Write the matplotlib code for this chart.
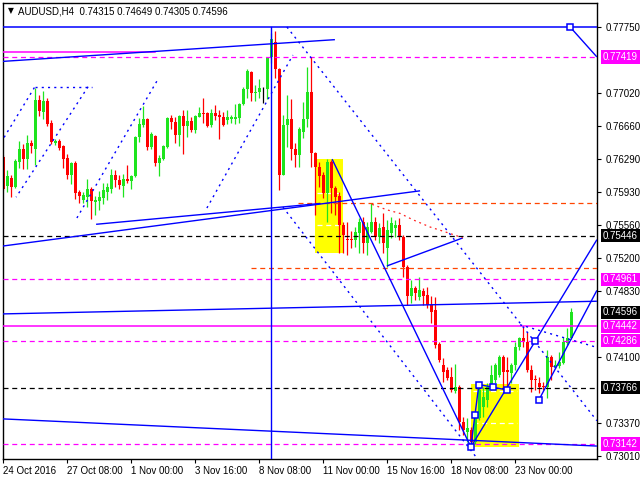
import matplotlib
matplotlib.use('Agg')
import matplotlib.pyplot as plt
import matplotlib.transforms as mtransforms
import numpy as np

plt.rcParams['font.family'] = ['Liberation Sans', 'DejaVu Sans']

# ---------------- data ----------------
opens = [.7631, .7599, .7608, .7598, .7626, .7640, .7629, .7647, .7640, .7694,
         .7681, .7693, .7669, .7647, .7649, .7643, .7630, .7611, .7625, .7593,
         .7584, .7587, .7596, .7582, .7583, .7586, .7593, .7596, .7611, .7606,
         .7599, .7607, .7605, .7610, .7654, .7667, .7673, .7642, .7655, .7625,
         .7629, .7642, .7674, .7670, .7656, .7677, .7666, .7671, .7661, .7676,
         .7680, .7680, .7667, .7680, .7678, .7676, .7672, .7673, .7673, .7674,
         .7690, .7706, .7725, .7702, .7703, .7706, .7706, .7742, .7758, .7729,
         .7611, .7667, .7673, .7640, .7634, .7659, .7673, .7703, .7636, .7620,
         .7611, .7592, .7626, .7597, .7588, .7556, .7541, .7541, .7540, .7547,
         .7560, .7536, .7549, .7560, .7543, .7554, .7531, .7547, .7553, .7556,
         .7543, .7510, .7478, .7487, .7477, .7483, .7479, .7468, .7462, .7425,
         .7402, .7396, .7388, .7373, .7377, .7339, .7328, .7330, .7316, .7343,
         .7355, .7363, .7377, .7385, .7391, .7410, .7396, .7393, .7402, .7421,
         .7431, .7427, .7396, .7386, .7382, .7378, .7377, .7410, .7399, .7400,
         .7404, .7426, .74315]
highs = [.7634, .7617, .7612, .7629, .7649, .7646, .7656, .7650, .7708, .7700,
         .7704, .7697, .7672, .7651, .7651, .7645, .7635, .7626, .7627, .7595,
         .7593, .7607, .7598, .7588, .7594, .7603, .7603, .7618, .7617, .7611,
         .7613, .7622, .7612, .7655, .7674, .7688, .7674, .7659, .7656, .7634,
         .7645, .7675, .7678, .7675, .7678, .7683, .7683, .7675, .7678, .7687,
         .7697, .7681, .7684, .7689, .7683, .7681, .7683, .7678, .7690, .7691,
         .7709, .7729, .7726, .7711, .7718, .7709, .7742, .7768, .7771, .7730,
         .7678, .7700, .7695, .7647, .7665, .7692, .7731, .7742, .7637, .7626,
         .7615, .7629, .7628, .7599, .7593, .7560, .7560, .7550, .7554, .7564,
         .7565, .7560, .7580, .7565, .7558, .7569, .7562, .7565, .7562, .7564,
         .7545, .7512, .7495, .7489, .7499, .7487, .7488, .7478, .7477, .7427,
         .7409, .7399, .7399, .7403, .7379, .7344, .7343, .7333, .7343, .7379,
         .7377, .7382, .7402, .7404, .7413, .7413, .7410, .7404, .7427, .7432,
         .7443, .7438, .7402, .7391, .7388, .7383, .7418, .7413, .7407, .7416,
         .7432, .7442, .74649]
lows = [.7595, .7593, .7587, .7597, .7619, .7618, .7618, .7636, .7622, .7677,
        .7673, .7666, .7646, .7645, .7639, .7619, .7607, .7601, .7585, .7581,
        .7581, .7576, .7563, .7567, .7573, .7579, .7584, .7592, .7598, .7596,
        .7587, .7603, .7596, .7609, .7648, .7665, .7639, .7640, .7621, .7610,
        .7628, .7641, .7662, .7647, .7644, .7635, .7653, .7659, .7658, .7675,
        .7669, .7665, .7665, .7672, .7651, .7666, .7668, .7669, .7668, .7669,
        .7689, .7697, .7693, .7693, .7697, .7691, .7695, .7735, .7719, .7595,
        .7611, .7642, .7628, .7620, .7620, .7652, .7664, .7620, .7567, .7598,
        .7586, .7560, .7569, .7567, .7525, .7525, .7523, .7531, .7532, .7525,
        .7525, .7523, .7547, .7540, .7536, .7525, .7510, .7542, .7543, .7540,
        .7499, .7468, .7470, .7473, .7473, .7468, .7464, .7448, .7420, .7405,
        .7383, .7385, .7372, .7371, .7330, .7324, .7316, .7311, .7314, .7341,
        .7344, .7355, .7374, .7382, .7388, .7374, .7374, .7382, .7396, .7418,
        .7421, .7394, .7372, .7374, .7371, .7374, .7365, .7385, .7398, .7398,
        .7403, .7424, .74305]
closes = [.7596, .7610, .7598, .7627, .7640, .7629, .7647, .7643, .7694, .7682,
          .7693, .7668, .7648, .7649, .7641, .7629, .7611, .7625, .7592, .7588,
          .7589, .7596, .7583, .7584, .7587, .7595, .7598, .7611, .7606, .7600,
          .7607, .7605, .7610, .7654, .7668, .7673, .7642, .7657, .7625, .7630,
          .7643, .7674, .7670, .7656, .7677, .7666, .7671, .7661, .7677, .7680,
          .7679, .7666, .7680, .7677, .7676, .7667, .7676, .7676, .7676, .7690,
          .7706, .7726, .7702, .7703, .7708, .7706, .7742, .7762, .7729, .7611,
          .7667, .7673, .7640, .7634, .7662, .7673, .7703, .7636, .7620, .7610,
          .7592, .7626, .7597, .7587, .7556, .7545, .7540, .7540, .7549, .7560,
          .7536, .7554, .7560, .7543, .7553, .7536, .7551, .7558, .7556, .7543,
          .7510, .7478, .7487, .7481, .7484, .7478, .7468, .7460, .7424, .7407,
          .7394, .7387, .7374, .7377, .7339, .7330, .7332, .7316, .7343, .7374,
          .7366, .7377, .7391, .7402, .7410, .7394, .7394, .7402, .7421, .7431,
          .7427, .7396, .7385, .7385, .7377, .7377, .7410, .7399, .7402, .7405,
          .7427, .7431, .74596]

title_text = "AUDUSD,H4  0.74315 0.74649 0.74305 0.74596"
x_tick_bars = [0, 16, 32, 48, 64, 80, 96, 112, 128]
x_tick_labels = ["24 Oct 2016", "27 Oct 08:00", "1 Nov 00:00", "3 Nov 16:00",
                 "8 Nov 08:00", "11 Nov 00:00", "15 Nov 16:00", "18 Nov 08:00",
                 "23 Nov 00:00"]
y_ticks = [0.77750, 0.77020, 0.76660, 0.76290, 0.75930, 0.75560,
           0.75200, 0.74830, 0.74100, 0.73370, 0.73010]

# horizontal levels
level_top = 0.77750
magenta_dashed = [0.77419, 0.74961, 0.74286, 0.73142]
magenta_solid = 0.74442
black_dashed = [0.75446, 0.73766]
# right-side price labels (value, colour)
price_labels = [(0.77419, '#ff00ff'), (0.75446, '#000000'), (0.74961, '#ff00ff'),
                (0.74596, '#000000'), (0.74442, '#ff00ff'), (0.74286, '#ff00ff'),
                (0.73766, '#000000'), (0.73142, '#ff00ff')]

# drawing objects (bar index, price)
solid_lines = [
    [(-0.1, 0.7737), (82.9, 0.7761)],
    [(82.2, 0.7629), (116.9, 0.7311)],
    [(116.9, 0.7311), (148.4, 0.7540)],
    [(133.9, 0.7363), (148.4, 0.7484)],
    [(-0.1, 0.7533), (104.2, 0.7594)],
    [(23.2, 0.7557), (79.2, 0.7580)],
    [(-0.1, 0.7458), (148.4, 0.7472)],
    [(-0.1, 0.7342), (148.4, 0.7312)],
    [(95.9, 0.7511), (114.9, 0.7542)],
    [(141.7, 0.7775), (148.4, 0.77419)],
    [(116.9, 0.7311), (117.9, 0.7346), (118.9, 0.7380)],
    [(118.9, 0.7380), (122.4, 0.7377), (125.9, 0.7374)],
]
dotted_lines = [
    [(0.2, 0.7653), (7.9, 0.7709)],
    [(7.9, 0.7709), (22.2, 0.7709)],
    [(21.2, 0.7709), (3.2, 0.7587)],
    [(18.4, 0.7564), (38.9, 0.7719)],
    [(50.9, 0.7575), (72.4, 0.7744)],
    [(70.9, 0.7775), (148.4, 0.7340)],
    [(69.9, 0.7576), (118.7, 0.7297)],
    [(129.2, 0.7446), (148.4, 0.7421)],
]
red_curve = [(92.2, 0.7579), (95.9, 0.7573), (99.2, 0.7569), (102.4, 0.7562),
             (106.7, 0.7554), (110.9, 0.7548), (114.9, 0.7542)]
orange_levels = [(0.7580, 73.7), (0.7509, 61.9)]
markers = [(116.9, 0.7311), (117.9, 0.7346), (118.9, 0.7380), (122.4, 0.7377),
           (125.9, 0.7374), (132.9, 0.7428), (133.9, 0.7363), (141.7, 0.7775)]
yellow_boxes = [((77.9, 84.9), (0.7525, 0.7629), (0.7592, 0.7556)),
                ((116.9, 128.9), (0.7311, 0.7381), (0.7373, 0.7337))]
vline_bar = 67

# ---------------- figure ----------------
W, H = 640, 480
fig = plt.figure(figsize=(W / 100, H / 100), dpi=100)
ax = fig.add_axes([3 / W, 21 / H, 594 / W, 456 / H])
xmin, xmax = -0.075, 148.425
ymin, ymax = 0.72977, 0.78015
ax.set_xlim(xmin, xmax)
ax.set_ylim(ymin, ymax)

BLUE = '#0000ff'
MAG = '#ff00ff'
GREEN = '#1ee41e'
RED = '#ff0000'

# yellow boxes
for (x0, x1), (y0, y1), dashes in yellow_boxes:
    ax.fill_between([x0, x1], y0, y1, color='#ffff00', lw=0, zorder=1)
    for dy in dashes:
        ax.plot([x0 + 0.5, x1 - 0.5], [dy, dy], color='white', lw=0.9,
                ls=(0, (4, 3)), zorder=1.2)

# candles
o = np.array(opens); c = np.array(closes); h = np.array(highs); l = np.array(lows)
idx = np.arange(len(o))
cols = np.where(c > o, GREEN, np.where(c < o, RED, '#000000'))
ax.vlines(idx, l, h, colors=cols, linewidth=0.9, zorder=2)
ax.bar(idx, np.maximum(np.abs(c - o), 0.00004), bottom=np.minimum(o, c),
       width=0.72, color=cols, linewidth=0, zorder=2)

# horizontal levels
ax.axhline(level_top, color=BLUE, lw=1.1, zorder=3)
for y in magenta_dashed:
    ax.axhline(y, color=MAG, lw=0.9, ls=(0, (4, 3)), zorder=3)
ax.axhline(magenta_solid, color=MAG, lw=1.1, zorder=3)
ax.plot([xmin, 37.9], [0.7747, 0.7747], color=MAG, lw=1.1, zorder=3)
for y in black_dashed:
    ax.axhline(y, color='black', lw=0.9, ls=(0, (4, 3)), zorder=3)
for y, x0 in orange_levels:
    ax.plot([x0, xmax], [y, y], color='#ff4500', lw=0.9, ls=(0, (4, 3)), zorder=3)

ax.plot([vline_bar, vline_bar], [ymin, level_top], color=BLUE, lw=1.0, zorder=3)

for pts in solid_lines:
    xs, ys = zip(*pts)
    ax.plot(xs, ys, color=BLUE, lw=1.0, zorder=3, solid_capstyle='butt')
for pts in dotted_lines:
    xs, ys = zip(*pts)
    ax.plot(xs, ys, color=BLUE, lw=1.0, ls=(0, (1.5, 3)), zorder=3)
xs, ys = zip(*red_curve)
ax.plot(xs, ys, color='#ff2020', lw=0.9, ls=(0, (1.5, 3)), zorder=3)
mx, my = zip(*markers)
ax.plot(mx, my, ls='none', marker='s', ms=4.8, mfc='white', mec=BLUE, mew=1.1, zorder=4)

# axes styling
for s in ax.spines.values():
    s.set_color('black'); s.set_linewidth(1.0)
ax.yaxis.tick_right()
ax.set_yticks(y_ticks)
ax.set_yticklabels([f"{v:.5f}" for v in y_ticks])
ax.set_xticks(x_tick_bars)
ax.set_xticklabels(x_tick_labels)
for lab in ax.get_xticklabels():
    lab.set_ha('left')
ax.tick_params(axis='y', length=3, labelsize=7, pad=3, colors='black')
ax.tick_params(axis='x', length=3, labelsize=7, pad=2, colors='black')

trans = mtransforms.blended_transform_factory(ax.transAxes, ax.transData)
for v, fc in price_labels:
    ax.text(1 + 6 / 594, v, f"{v:.5f}", transform=trans, ha='left', va='center',
            fontsize=7, color='white', clip_on=False, zorder=10,
            bbox=dict(boxstyle='square,pad=0.18', fc=fc, ec='none'))

ax.text(5 / 594, 1 - 8 / 456, "\u25bc", transform=ax.transAxes, ha='left',
        va='center', fontsize=5.5, color='black', family='DejaVu Sans')
ax.text(15 / 594, 1 - 8 / 456, title_text, transform=ax.transAxes, ha='left',
        va='center', fontsize=7, color='black')

fig.savefig('out.png', dpi=100)
